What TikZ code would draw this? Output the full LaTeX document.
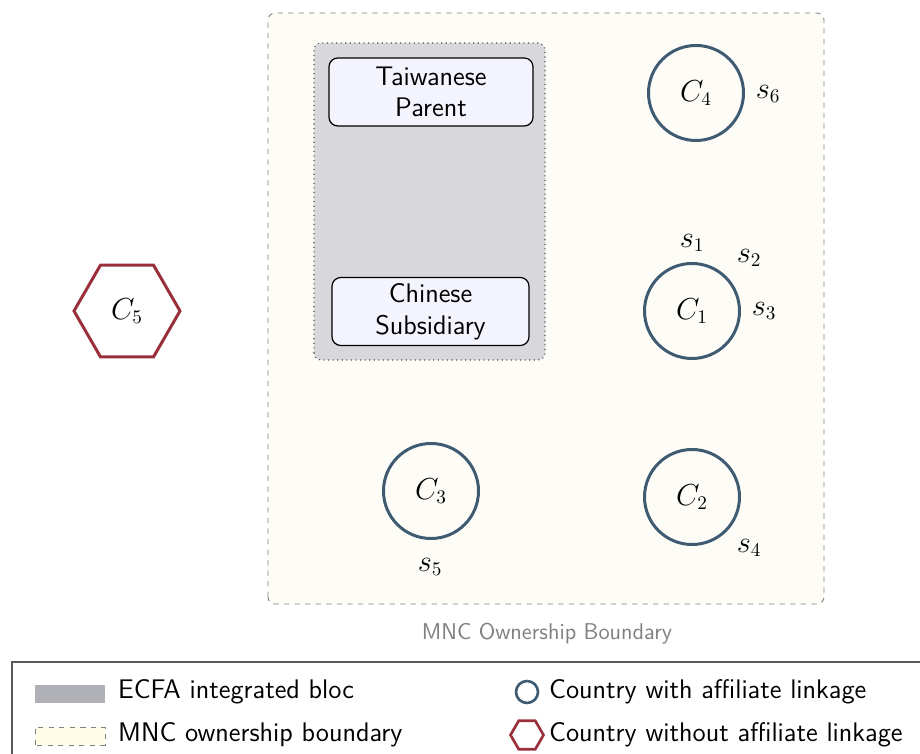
\documentclass[tikz,border=0pt]{standalone}
\usepackage{amsmath,amssymb}
\usepackage{xcolor}
\usepackage{tikz}
\usetikzlibrary{positioning, shapes.geometric, shapes.misc}

\definecolor{linkblue}{HTML}{3E5B72}
\definecolor{nolinkred}{HTML}{982F3B}
\definecolor{mncfill}{HTML}{FDFCF7}
\definecolor{ecfafill}{HTML}{D8D8DC}
\definecolor{firmfill}{HTML}{F3F4FD}
\definecolor{legendgray}{HTML}{B0B1B6}
\definecolor{legendcream}{HTML}{FFFDE6}

\begin{document}
\begin{tikzpicture}[
    txt/.style={font=\fontsize{15.3}{18}\selectfont\sffamily},
    firm/.style={txt, rounded corners=5pt, draw=black, line width=0.7pt, fill=firmfill, align=center, minimum height=1.36cm, inner sep=2pt},
    country/.style={circle, draw=linkblue, line width=1.7pt, minimum size=1.9cm, inner sep=0pt, font=\fontsize{16}{19}\selectfont},
    nolink/.style={regular polygon, regular polygon sides=6, draw=nolinkred, line width=1.7pt, minimum size=2.12cm, inner sep=0pt, font=\fontsize{16}{19}\selectfont},
    slab/.style={font=\fontsize{16}{19}\selectfont, inner sep=1pt}
  ]
  \useasboundingbox (0,0) rectangle (18.4,15.08);

  \begin{scope}
    \draw[gray, dashed, line width=0.5pt, fill=mncfill, rounded corners=4pt] (5.36,3.0) rectangle (16.48,14.82);
    \draw[black!70, dotted, line width=0.6pt, fill=ecfafill, rounded corners=4pt] (6.28,7.88) rectangle (10.9,14.22);
    \node[firm, minimum width=4.08cm] (tw) at (8.62,13.24) {Taiwanese\\Parent};
    \node[firm, minimum width=3.94cm] (cn) at (8.61,8.85) {Chinese\\Subsidiary};
    \node[country] (c4) at (13.92,13.22) {$C_4$};
    \node[country] (c1) at (13.84,8.86) {$C_1$};
    \node[country] (c2) at (13.84,5.14) {$C_2$};
    \node[country] (c3) at (8.62,5.26) {$C_3$};
    \node[nolink] (c5) at (2.54,8.86) {$C_5$};
    \node[slab] (s6) at (15.36,13.2) {$s_6$};
    \node[slab] (s1) at (13.84,10.22) {$s_1$};
    \node[slab] (s2) at (14.98,9.92) {$s_2$};
    \node[slab] (s3) at (15.28,8.86) {$s_3$};
    \node[slab] (s4) at (14.98,4.12) {$s_4$};
    \node[slab] (s5) at (8.6,3.74) {$s_5$};
    \node[font=\fontsize{13}{15}\selectfont\sffamily, text=gray] (mnc) at (10.94,2.4) {MNC Ownership Boundary};
  \end{scope}

  \begin{scope}
    \draw[black!65, line width=0.7pt] (0.24,-0.5) rectangle (18.8,1.84);
    \fill[legendgray] (0.7,1.02) rectangle (2.1,1.38);
    \node[txt, anchor=west] (l1) at (2.24,1.24) {ECFA integrated bloc};
    \draw[gray, dashed, line width=0.5pt, fill=legendcream] (0.7,0.18) rectangle (2.1,0.54);
    \node[txt, anchor=west] (l2) at (2.24,0.38) {MNC ownership boundary};
    \node[circle, draw=linkblue, line width=1.5pt, minimum size=0.44cm, inner sep=0pt] (l3) at (10.54,1.24) {};
    \node[txt, anchor=west] (l3t) at (10.86,1.24) {Country with affiliate linkage};
    \node[regular polygon, regular polygon sides=6, draw=nolinkred, line width=1.5pt, minimum size=0.66cm, inner sep=0pt] (l4) at (10.54,0.38) {};
    \node[txt, anchor=west] (l4t) at (10.86,0.38) {Country without affiliate linkage};
  \end{scope}
\end{tikzpicture}
\end{document}
